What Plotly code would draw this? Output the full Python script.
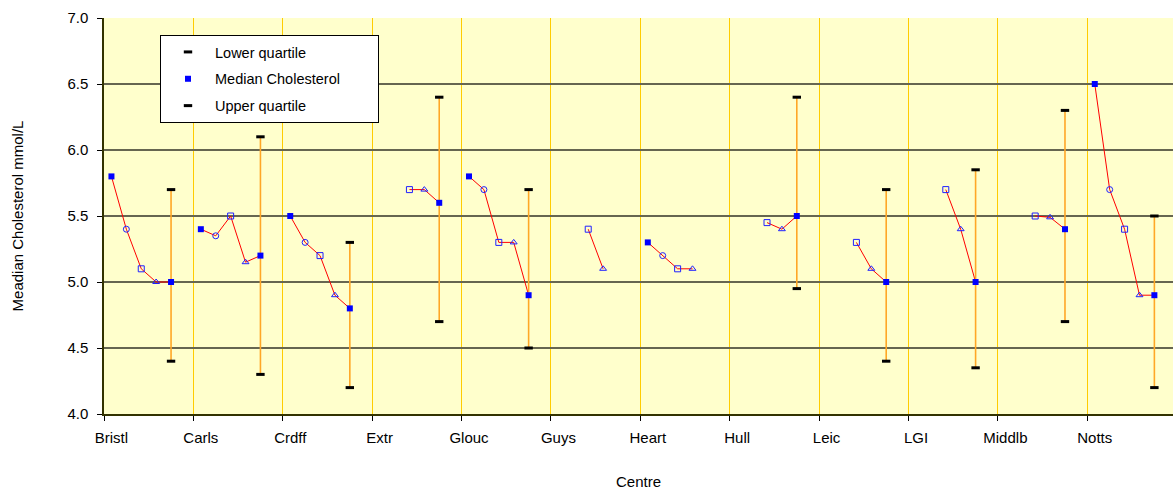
import plotly.graph_objects as go

centres = ["Bristl", "Carls", "Crdff", "Extr", "Glouc", "Guys",
           "Heart", "Hull", "Leic", "LGI", "Middlb", "Notts"]

# five successive values per centre (slots 0..4); None = missing
val_1 = [5.8, 5.4, 5.5, None, 5.8, None, 5.3, None, None, None, None, 6.5]
val_2 = [5.4, 5.35, 5.3, None, 5.7, None, 5.2, None, None, None, None, 5.7]
val_3 = [5.1, 5.5, 5.2, 5.7, 5.3, 5.4, 5.1, 5.45, 5.3, 5.7, 5.5, 5.4]
val_4 = [5.0, 5.15, 4.9, 5.7, 5.3, 5.1, 5.1, 5.4, 5.1, 5.4, 5.49, 4.9]
median = [5.0, 5.2, 4.8, 5.6, 4.9, None, None, 5.5, 5.0, 5.0, 5.4, 4.9]
lower_q = [4.4, 4.3, 4.2, 4.7, 4.5, None, None, 4.95, 4.4, 4.35, 4.7, 4.2]
upper_q = [5.7, 6.1, 5.3, 6.4, 5.7, None, None, 6.4, 5.7, 5.85, 6.3, 5.5]

SLOTS = 6
series = [val_1, val_2, val_3, val_4, median]

# connecting red line, broken between centres
lx, ly = [], []
for i in range(len(centres)):
    for j, s in enumerate(series):
        lx.append(i * SLOTS + j)
        ly.append(s[i])
    lx.append(i * SLOTS + 5)
    ly.append(None)

fig = go.Figure()
fig.add_trace(go.Scatter(x=lx, y=ly, mode="lines", line=dict(color="#FF0000", width=1),
                         connectgaps=False, showlegend=False, hoverinfo="skip"))

# high-low (quartile) lines
hx, hy = [], []
for i in range(len(centres)):
    if lower_q[i] is None:
        continue
    hx += [i * SLOTS + 4, i * SLOTS + 4, None]
    hy += [lower_q[i], upper_q[i], None]
fig.add_trace(go.Scatter(x=hx, y=hy, mode="lines", line=dict(color="#FFA726", width=1.6),
                         showlegend=False, hoverinfo="skip"))

marker_styles = [
    dict(symbol="square", size=6, color="#0000FF", line=dict(width=0)),
    dict(symbol="circle-open", size=6, color="#2020FF", line=dict(width=1)),
    dict(symbol="square-open", size=6, color="#2020FF", line=dict(width=1)),
    dict(symbol="triangle-up-open", size=6, color="#2020FF", line=dict(width=1)),
]
for j, s in enumerate(series[:4]):
    fig.add_trace(go.Scatter(x=[i * SLOTS + j for i in range(len(centres))], y=s,
                             mode="markers", marker=marker_styles[j], showlegend=False))

xs4 = [i * SLOTS + 4 for i in range(len(centres))]
cap = dict(symbol="line-ew", size=6, line=dict(color="black", width=3))
pad = "\u00a0" * 8
fig.add_trace(go.Scatter(x=xs4, y=lower_q, mode="markers", name="Lower quartile",
                         marker=cap, legendgroup="a"))
fig.add_trace(go.Scatter(x=xs4, y=median, mode="markers", name="Median Cholesterol" + pad,
                         marker=dict(symbol="square", size=6, color="#0000FF", line=dict(width=0)),
                         legendgroup="b"))
fig.add_trace(go.Scatter(x=xs4, y=upper_q, mode="markers", name="Upper quartile",
                         marker=cap, legendgroup="c"))

# label axis (labels under the first slot of each centre)
fig.add_trace(go.Scatter(x=[0], y=[None], xaxis="x2", showlegend=False, hoverinfo="skip"))

xr = [-0.5, 71.25]
font = "Liberation Sans, Arial, sans-serif"
fig.update_layout(
    width=1173, height=490,
    margin=dict(l=104, r=0, t=18, b=76),
    paper_bgcolor="white", plot_bgcolor="#FFFFCC",
    font=dict(family=font, size=15, color="black"),
    xaxis=dict(range=xr, tickvals=[k * SLOTS - 0.5 for k in range(13)],
               showticklabels=False, ticks="outside", ticklen=5, tickcolor="black",
               showgrid=True, gridcolor="#FFCC00", gridwidth=1,
               showline=True, linecolor="#333300", linewidth=1.5, zeroline=False),
    xaxis2=dict(range=xr, overlaying="x", anchor="y", side="bottom",
                tickvals=[i * SLOTS for i in range(len(centres))], ticktext=centres,
                ticks="outside", ticklen=10, tickcolor="rgba(0,0,0,0)",
                showgrid=False, showline=False, zeroline=False,
                tickfont=dict(size=15),
                title=dict(text="Centre", font=dict(size=15), standoff=32)),
    yaxis=dict(range=[4, 7], dtick=0.5, tickformat=".1f", ticks="outside", ticklen=5,
               tickcolor="black", showgrid=True, gridcolor="#666650", gridwidth=1.6,
               showline=True, linecolor="#333300", linewidth=1.5, zeroline=False,
               tickfont=dict(size=15), ticklabelstandoff=6,
               title=dict(text="Meadian Cholesterol mmol/L", font=dict(size=15), standoff=40)),
    legend=dict(x=(160 - 104) / 1069, y=(414 - 35) / 396, xanchor="left", yanchor="top",
                bgcolor="white", bordercolor="black", borderwidth=1,
                font=dict(size=14.5), traceorder="grouped", tracegroupgap=5,
                itemwidth=44),
)
fig.write_html("out.html", config={"displayModeBar": False},
               post_script="document.body.style.margin='0';document.body.style.overflow='hidden';")
